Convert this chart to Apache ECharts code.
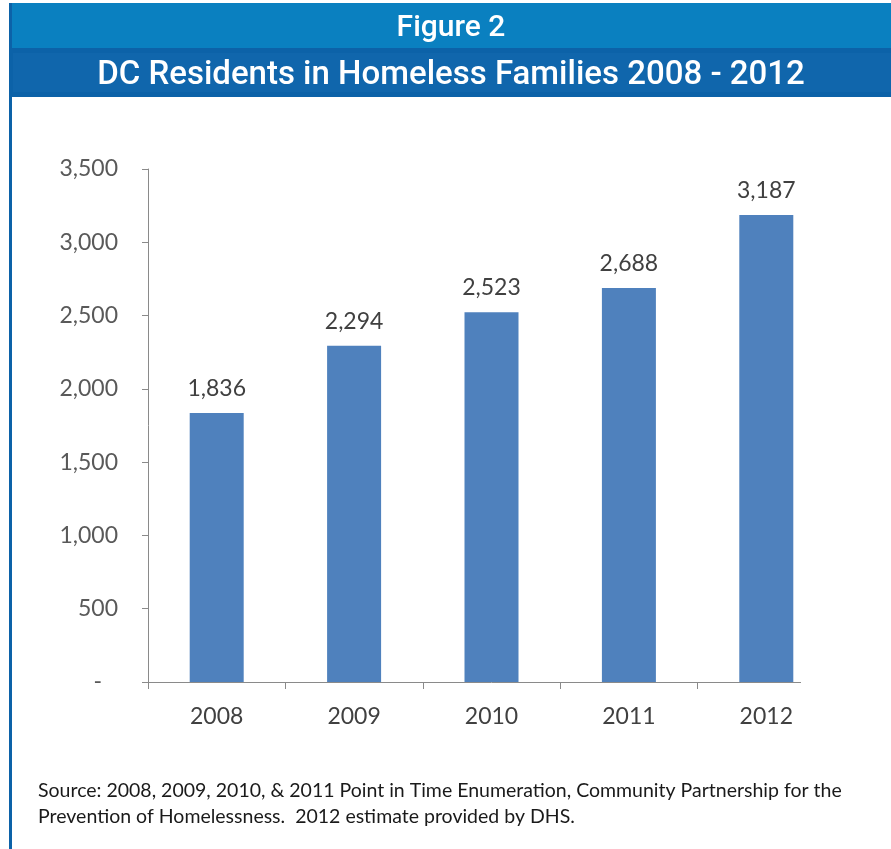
<!DOCTYPE html>
<html>
<head>
<meta charset="utf-8">
<script src="https://cdn.jsdelivr.net/npm/echarts@6/dist/echarts.min.js"></script>
<style>
  html, body { margin: 0; padding: 0; background: #fff; }
  #chart { width: 891px; height: 849px; }
</style>
</head>
<body>
<div id="chart"></div>
<script>
const years = ['2008', '2009', '2010', '2011', '2012']
const residents = [1836, 2294, 2523, 2688, 3187]
const yTicks = { min: 0, max: 3500, interval: 500 }

const figureLabel = 'Figure 2'
const titleText = 'DC Residents in Homeless Families 2008 - 2012'
const sourceLines = [
  'Source: 2008, 2009, 2010, & 2011 Point in Time Enumeration, Community Partnership for the',
  'Prevention of Homelessness.  2012 estimate provided by DHS.'
]

function withCommas(v) {
  return String(v).replace(/\B(?=(\d{3})+(?!\d))/g, ',')
}

const chart = echarts.init(document.getElementById('chart'))
const option = {
  animation: false,
  backgroundColor: '#ffffff',
  textStyle: { fontFamily: 'Lato' },
  grid: { left: 148, right: 56, top: 169, bottom: 167, containLabel: false },
  xAxis: {
    type: 'category',
    data: years,
    axisLine: { lineStyle: { color: '#8a8a8a', width: 1 } },
    axisTick: { show: true, length: 7, lineStyle: { color: '#8a8a8a' } },
    axisLabel: { color: '#404040', fontSize: 23, margin: 23, fontFamily: 'Lato' }
  },
  yAxis: {
    type: 'value',
    min: yTicks.min,
    max: yTicks.max,
    interval: yTicks.interval,
    axisLine: { show: true, lineStyle: { color: '#8a8a8a', width: 1 } },
    axisTick: { show: true, length: 6, lineStyle: { color: '#8a8a8a' } },
    splitLine: { show: false },
    axisLabel: {
      color: '#595959',
      fontSize: 23,
      margin: 30,
      fontFamily: 'Lato',
      // accounting style: zero shown as a dash, set in from the right
      formatter: v => (v === 0 ? '{dash|-}' : withCommas(v)),
      rich: {
        dash: { color: '#595959', fontSize: 23, fontFamily: 'Lato', padding: [0, 16, 0, 0] }
      }
    }
  },
  series: [
    {
      type: 'bar',
      data: residents,
      barWidth: 54,
      itemStyle: { color: '#4f81bd' },
      label: {
        show: true,
        position: 'top',
        distance: 13,
        color: '#404040',
        fontSize: 23,
        fontFamily: 'Lato',
        formatter: p => withCommas(p.value)
      }
    }
  ],
  graphic: [
    // header bands
    { type: 'rect', shape: { x: 9, y: 3, width: 882, height: 45 }, style: { fill: '#0a80c0' }, z: 10 },
    { type: 'rect', shape: { x: 9, y: 48, width: 882, height: 49 }, style: { fill: '#0c62a8' }, z: 10 },
    { type: 'rect', shape: { x: 13, y: 53, width: 878, height: 39 }, style: { fill: '#1066ac' }, z: 10 },
    // left frame line
    { type: 'rect', shape: { x: 9, y: 3, width: 3, height: 846 }, style: { fill: '#0c62a8' }, z: 11 },
    {
      type: 'text', x: 451, y: 28, z: 12,
      style: { text: figureLabel, fill: '#ffffff', font: '500 30px Roboto', textAlign: 'center', textVerticalAlign: 'middle' }
    },
    {
      type: 'text', x: 451, y: 76, z: 12,
      style: { text: titleText, fill: '#ffffff', font: '500 33px Roboto', textAlign: 'center', textVerticalAlign: 'middle' }
    },
    // hide x axis past the plot edge, as in the original
    { type: 'rect', shape: { x: 801, y: 676, width: 60, height: 16 }, style: { fill: '#ffffff' }, z: 20 },
    {
      type: 'text', x: 38, y: 791, z: 12,
      style: { text: sourceLines[0], fill: '#1a1a1a', font: '19.5px Lato', textVerticalAlign: 'middle' }
    },
    {
      type: 'text', x: 38, y: 817, z: 12,
      style: { text: sourceLines[1], fill: '#1a1a1a', font: '19.5px Lato', textVerticalAlign: 'middle' }
    }
  ]
}
chart.setOption(option)
</script>
</body>
</html>
